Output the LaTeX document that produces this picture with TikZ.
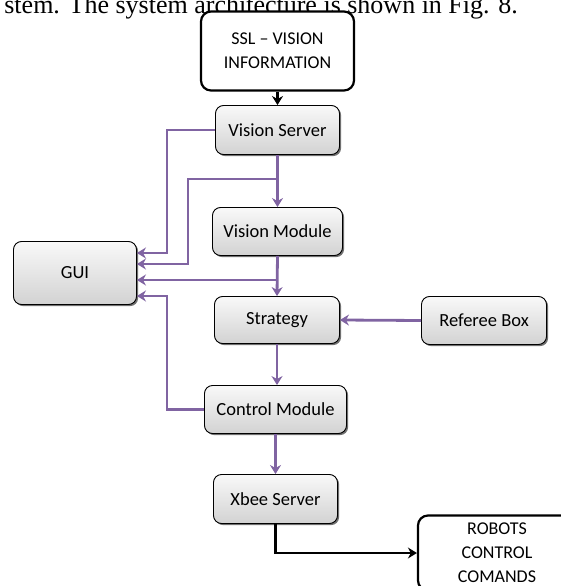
\documentclass[tikz,border=0pt]{standalone}
\usepackage{fontspec}
\setmainfont{Carlito}
\newfontfamily\capfont{Liberation Serif}
\usetikzlibrary{arrows.meta,shadows,calc}
\definecolor{purp}{HTML}{8064A2}
\begin{document}
\begin{tikzpicture}[x=1pt,y=-1pt,
  gbox/.style={draw=black, line width=0.9pt, rounded corners=8pt, top color=gray!5, bottom color=gray!35,
    font=\fontsize{18.5}{20}\selectfont, inner sep=0pt,
    drop shadow={shadow xshift=1.6pt,shadow yshift=-1.6pt,opacity=0.75,fill=black!75}},
  wbox/.style={draw=black, line width=2.2pt, rounded corners=10pt, fill=white,
    font=\fontsize{18}{24}\selectfont, align=center, inner sep=0pt},
  parrow/.style={draw=purp, line width=2.8pt, -{Stealth[length=9pt,width=11pt]}},
  barrow/.style={draw=black, line width=2.6pt, -{Stealth[length=9pt,width=11pt]}},
]
\useasboundingbox (0,0) rectangle (561,586);
\clip (0,0) rectangle (561,586);

\node[anchor=base east, font=\capfont\fontsize{26}{28}\selectfont, inner sep=0pt] (cap) at (518,13.5)
  {stem. The system architecture is shown in Fig. 8.};

\node[wbox, minimum width=153, minimum height=79] (ssl) at (277.5,51) {SSL -- VISION\\INFORMATION};
\node[gbox, minimum width=124, minimum height=49] (vs) at (277.5,130) {Vision Server};
\node[gbox, minimum width=130, minimum height=48] (vm) at (277.5,231.5) {Vision Module};
\node[gbox, minimum width=123, minimum height=63] (gui) at (75,273) {GUI};
\node[gbox, minimum width=125, minimum height=47] (strat) at (277,320) {Strategy};
\node[gbox, minimum width=125, minimum height=48] (ref) at (484,320.5) {Referee Box};
\node[gbox, minimum width=142, minimum height=48] (cm) at (275.5,409.5) {Control Module};
\node[gbox, minimum width=124, minimum height=49] (xbee) at (275.5,499) {Xbee Server};
\node[wbox, minimum width=158, minimum height=75] (rob) at (497,553) {ROBOTS\\CONTROL\\COMANDS};

\coordinate (j1) at (167,253);
\coordinate (j2) at (277.5,179);
\coordinate (j3) at (188,264);
\coordinate (j4) at (277.5,280);
\coordinate (j5) at (167,296);

\draw[barrow] (ssl.south) -- (vs.north);
\draw[parrow] (vs.west) -| (j1) -- (gui.east |- j1);
\draw[parrow] (vs.south) -- (vm.north);
\draw[parrow] (j2) -| (j3) -- (gui.east |- j3);
\draw[parrow] (vm.south) -- (strat.north);
\draw[parrow] (j4) -- (gui.east |- j4);
\draw[parrow] (ref.west) -- (strat.east);
\draw[parrow] (strat.south) -- (strat.south |- cm.north);
\draw[parrow] (cm.west) -| (j5) -- (gui.east |- j5);
\draw[parrow] (cm.south) -- (xbee.north);
\draw[barrow] (xbee.south) |- (rob.west);
\end{tikzpicture}
\end{document}
